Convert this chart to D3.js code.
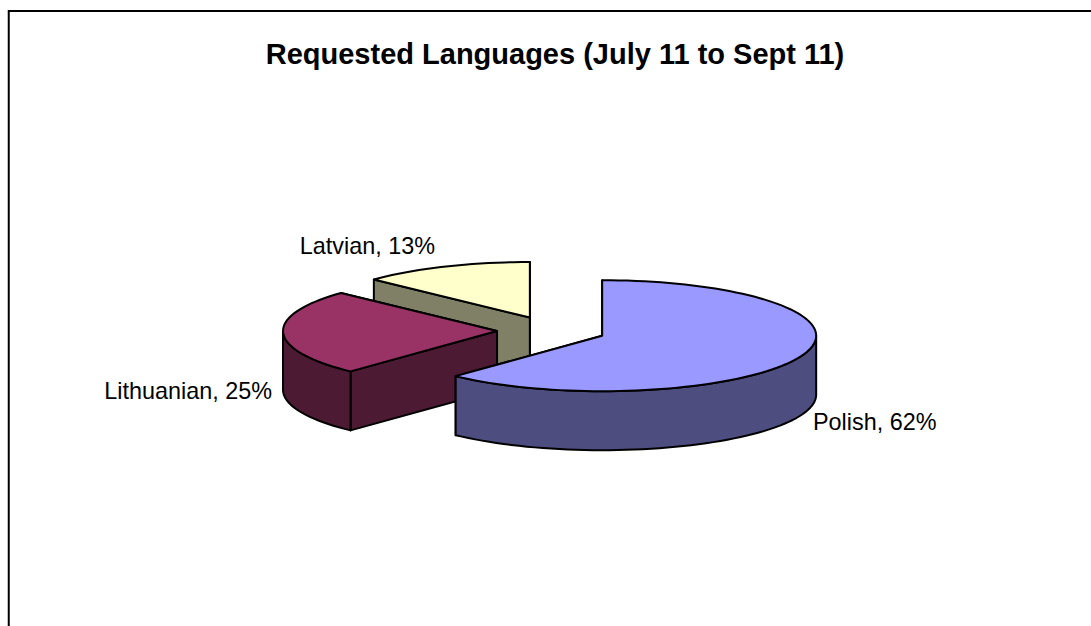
<!DOCTYPE html>
<html><head><meta charset="utf-8">
<style>html,body{margin:0;padding:0;background:#fff;overflow:hidden}svg{display:block}</style>
<script src="https://cdn.jsdelivr.net/npm/d3@7"></script></head>
<body><svg id="c" width="1091" height="626"></svg>
<script>
const categories = ["Polish","Lithuanian","Latvian"];
const shares = [62,25,13];
const topColors = ["#9999ff","#993366","#ffffcc"];
const sideColors = ["#4d4d80","#4d1a33","#808066"];
const titleText = "Requested Languages (July 11 to Sept 11)";

const cx=551.5, cy=330.5, rx=214, ry=55.5, depth=59, explode=54.5;
const svg=d3.select("#c");
svg.append("rect").attr("x",8.75).attr("y",11).attr("width",1200).attr("height",700)
  .attr("fill","#fff").attr("stroke","#000").attr("stroke-width",2);
svg.append("text").attr("x",555).attr("y",64).attr("text-anchor","middle")
  .attr("font-family","Liberation Sans, Arial, sans-serif").attr("font-weight","bold").attr("font-size",29).text(titleText);

const arcs=d3.pie().sort(null).value(d=>d)(shares);
const pt=(a,o,dz=0)=>[o[0]+rx*Math.sin(a),o[1]-ry*Math.cos(a)+dz];
function arcPath(p,a0,a1,dz,o){
  const n=Math.max(2,Math.ceil(Math.abs(a1-a0)/0.04));
  d3.range(n+1).forEach(i=>{
    const q=pt(a0+(a1-a0)*i/n,o,dz);p.lineTo(q[0],q[1]);
  });
}
const slices=arcs.map((d,i)=>{
  const mid=(d.startAngle+d.endAngle)/2;
  const o=[cx+explode*Math.sin(mid),cy-explode*(ry/rx)*Math.cos(mid)];
  return {i,d,o};
});
const g=svg.append("g").attr("stroke","#000").attr("stroke-width",2).attr("stroke-linejoin","round");
[2,1,0].forEach(i=>{
  const {d,o}=slices[i];
  const a0=d.startAngle,a1=d.endAngle;
  const wall=(ang)=>{
    const q=pt(ang,o),p=d3.path();
    p.moveTo(o[0],o[1]);p.lineTo(q[0],q[1]);p.lineTo(q[0],q[1]+depth);p.lineTo(o[0],o[1]+depth);p.closePath();
    return p.toString();
  };
  g.append("path").attr("d",wall(a1)).attr("fill",sideColors[i]);
  g.append("path").attr("d",wall(a0)).attr("fill",sideColors[i]);
  const s=Math.max(a0,Math.PI/2),e=Math.min(a1,3*Math.PI/2);
  if(e>s){
    const p=d3.path();const q=pt(s,o);p.moveTo(q[0],q[1]);
    arcPath(p,s,e,0,o);arcPath(p,e,s,depth,o);p.closePath();
    g.append("path").attr("d",p.toString()).attr("fill",sideColors[i]);
  }
  const p=d3.path();p.moveTo(o[0],o[1]);arcPath(p,a0,a1,0,o);p.closePath();
  g.append("path").attr("d",p.toString()).attr("fill",topColors[i]);
});
const labelPos=[[813,430,"start"],[272,399,"end"],[435,254,"end"]];
svg.append("g").selectAll("text").data(categories).join("text")
  .attr("x",(d,i)=>labelPos[i][0]).attr("y",(d,i)=>labelPos[i][1]).attr("text-anchor",(d,i)=>labelPos[i][2])
  .attr("font-family","Liberation Sans, Arial, sans-serif").attr("font-size",23.4)
  .text((d,i)=>`${d}, ${shares[i]}%`);
</script></body></html>
